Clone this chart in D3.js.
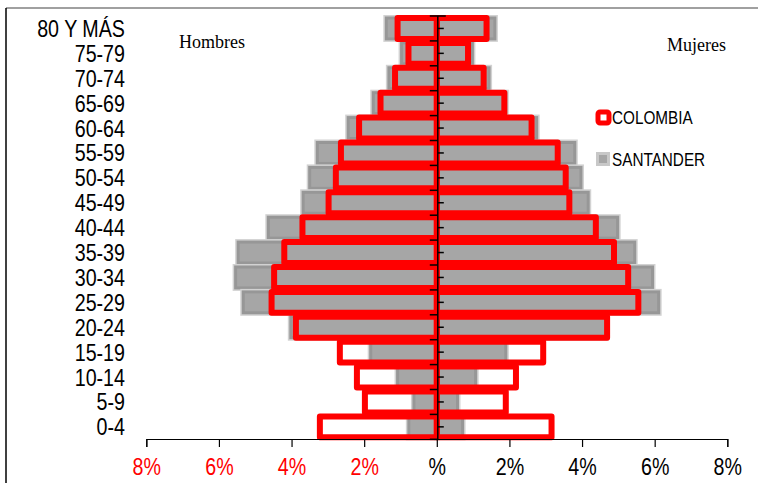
<!DOCTYPE html>
<html>
<head>
<meta charset="utf-8">
<script src="https://cdn.jsdelivr.net/npm/d3@7"></script>
<style>
  body { margin: 0; background: #fff; }
  svg { display: block; }
  .narrow { font-family: 'Liberation Sans Narrow', 'Arial Narrow', 'Liberation Sans', sans-serif; }
</style>
</head>
<body>
<div id="chart"></div>
<script>
// Age groups, top to bottom
const ageGroups = ['80 Y MÁS', '75-79', '70-74', '65-69', '60-64', '55-59', '50-54', '45-49',
    '40-44', '35-39', '30-34', '25-29', '20-24', '15-19', '10-14', '5-9', '0-4'];

// Percent of population
const colombiaMen   = [1.08, 0.78, 1.15, 1.55, 2.14, 2.64, 2.78, 2.98, 3.70, 4.20, 4.48, 4.55, 3.88, 2.67, 2.20, 1.98, 3.22];
const colombiaWomen = [1.37, 0.86, 1.29, 1.86, 2.61, 3.33, 3.55, 3.65, 4.38, 4.88, 5.27, 5.55, 4.69, 2.93, 2.18, 1.90, 3.16];
const santanderMen   = [1.39, 0.97, 1.32, 1.75, 2.44, 3.29, 3.50, 3.68, 4.64, 5.47, 5.54, 5.33, 4.02, 1.82, 1.08, 0.63, 0.77];
const santanderWomen = [1.60, 0.98, 1.44, 1.90, 2.75, 3.80, 3.97, 4.17, 4.98, 5.45, 5.94, 6.11, 4.65, 1.90, 1.07, 0.57, 0.71];

const xTicks = [-8, -6, -4, -2, 0, 2, 4, 6, 8];
const seriesNames = ['COLOMBIA', 'SANTANDER'];

const W = 758, H = 483;
const narrowScale = 0.82; // no Arial Narrow installed, squeeze Liberation Sans instead

const svg = d3.select('#chart').append('svg')
    .attr('width', W)
    .attr('height', H);

// frame
svg.append('line').attr('x1', 6).attr('x2', W).attr('y1', 8).attr('y2', 8)
    .attr('stroke', '#808080').attr('stroke-width', 1.5);
svg.append('line').attr('x1', 6).attr('x2', 6).attr('y1', 8).attr('y2', H)
    .attr('stroke', '#000').attr('stroke-width', 1.5);

const x = d3.scaleLinear().domain([-8, 8]).range([146.3, 727.3]);
const y = d3.scaleBand().domain(ageGroups).range([16, 439.3])
    .paddingInner(0.16).paddingOuter(0.08);

const rows = ageGroups.map((g, i) => ({
    group: g,
    cm: colombiaMen[i], cw: colombiaWomen[i],
    sm: santanderMen[i], sw: santanderWomen[i]
}));

// Santander bars (grey, two-tone edge)
const grey = svg.append('g');
function greyBars(sel) {
    sel.each(function(d) {
        const g = d3.select(this);
        [['sm', -1], ['sw', 1]].forEach(([k, s]) => {
            const x0 = x(0), x1 = x(s * d[k]);
            const rx = Math.min(x0, x1), rw = Math.abs(x1 - x0);
            g.append('rect').attr('x', rx).attr('y', y(d.group)).attr('width', rw).attr('height', y.bandwidth())
                .attr('fill', '#a6a6a6').attr('stroke', '#d2d2d2').attr('stroke-width', 6);
            g.append('rect').attr('x', rx).attr('y', y(d.group)).attr('width', rw).attr('height', y.bandwidth())
                .attr('fill', '#a6a6a6').attr('stroke', '#979797').attr('stroke-width', 3);
        });
    });
}
grey.selectAll('g').data(rows).join('g').call(greyBars);

// Colombia bars (red outline, no fill)
const red = svg.append('g');
red.selectAll('rect.men').data(rows).join('rect')
    .attr('class', 'men')
    .attr('x', d => x(-d.cm))
    .attr('y', d => y(d.group))
    .attr('width', d => x(0) - x(-d.cm))
    .attr('height', y.bandwidth())
    .attr('fill', 'none').attr('stroke', '#ff0000').attr('stroke-width', 6)
    .attr('stroke-linejoin', 'round');
red.selectAll('rect.women').data(rows).join('rect')
    .attr('class', 'women')
    .attr('x', x(0))
    .attr('y', d => y(d.group))
    .attr('width', d => x(d.cw) - x(0))
    .attr('height', y.bandwidth())
    .attr('fill', 'none').attr('stroke', '#ff0000').attr('stroke-width', 6)
    .attr('stroke-linejoin', 'round');

// centre category axis
const cx = x(0) + 1;
const step = y.step();
const yTop = y.range()[0];
const centre = svg.append('g').attr('stroke', '#000').attr('stroke-width', 1.5);
centre.append('line').attr('x1', cx).attr('x2', cx).attr('y1', yTop).attr('y2', y.range()[1]);
d3.range(ageGroups.length + 1).forEach(i => {
    const yy = yTop + i * step;
    centre.append('line').attr('x1', cx - 8).attr('x2', i === 0 ? cx + 8 : cx).attr('y1', yy).attr('y2', yy);
});
ageGroups.forEach(g => {
    const yy = y(g) + y.bandwidth() / 2;
    centre.append('line').attr('x1', cx).attr('x2', cx + 6).attr('y1', yy).attr('y2', yy);
});

// age labels
svg.append('g').selectAll('text').data(ageGroups).join('text')
    .attr('class', 'narrow')
    .attr('transform', d => `translate(125,${y(d) + y.bandwidth() / 2 + 8.5}) scale(${narrowScale},1)`)
    .attr('text-anchor', 'end')
    .attr('font-size', 24)
    .attr('fill', '#000')
    .text(d => d);

// bottom axis
const xAxis = d3.axisBottom(x)
    .tickValues(xTicks)
    .tickSize(8)
    .tickFormat(d => d === 0 ? '%' : Math.abs(d) + '%');
const ax = svg.append('g').attr('transform', 'translate(0,439)').call(xAxis);
ax.select('.domain').attr('stroke', '#000').attr('stroke-width', 1.2);
ax.selectAll('.tick line').attr('stroke', '#000').attr('stroke-width', 1.2);
ax.selectAll('.tick text')
    .attr('class', 'narrow')
    .attr('font-size', 24)
    .attr('y', 0)
    .attr('dy', null)
    .attr('transform', `translate(0,36) scale(${narrowScale},1)`)
    .attr('fill', d => d < 0 ? '#ff0000' : '#000');

// side titles
svg.append('text').attr('x', 179).attr('y', 48)
    .attr('font-family', "'Liberation Serif', 'Times New Roman', serif")
    .attr('font-size', 18).text('Hombres');
svg.append('text').attr('x', 667).attr('y', 51)
    .attr('font-family', "'Liberation Serif', 'Times New Roman', serif")
    .attr('font-size', 18).text('Mujeres');

// legend
const legend = svg.append('g').attr('transform', 'translate(596,110)');
legend.append('rect').attr('x', 2).attr('y', 2).attr('width', 11).attr('height', 11).attr('rx', 2)
    .attr('fill', '#fff').attr('stroke', '#ff0000').attr('stroke-width', 5);
legend.append('rect').attr('x', 1.5).attr('y', 43.5).attr('width', 11).attr('height', 11)
    .attr('fill', '#a6a6a6').attr('stroke', '#c8c8c8').attr('stroke-width', 3);
legend.selectAll('text').data(seriesNames).join('text')
    .attr('class', 'narrow')
    .attr('transform', (d, i) => `translate(16,${14 + i * 41.5}) scale(0.85,1)`)
    .attr('font-size', 18)
    .text(d => d);
</script>
</body>
</html>
